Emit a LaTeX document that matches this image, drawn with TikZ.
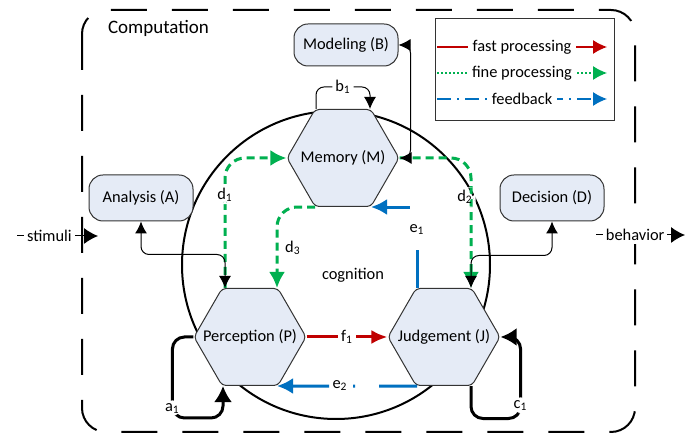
\documentclass[tikz,border=0pt]{standalone}
\usepackage{fontspec}
\setmainfont{Carlito}
\usetikzlibrary{shapes.geometric,arrows.meta,calc}

\definecolor{nodefill}{RGB}{229,235,246}
\definecolor{fastred}{RGB}{192,0,0}
\definecolor{finegreen}{RGB}{0,176,80}
\definecolor{backblue}{RGB}{0,112,192}

\tikzset{
  txt/.style={font=\fontsize{8.2}{10}\selectfont},
  box/.style={txt, draw=black!80, fill=nodefill, rounded corners=7pt, line width=0.5pt,
    minimum width=52pt, minimum height=23pt},
  hexa/.style={txt, draw=black!80, fill=nodefill, regular polygon, regular polygon sides=6,
    minimum size=56pt, inner sep=0pt, rounded corners=2pt, line width=0.5pt,
    execute at begin node={\hbox to 0pt\bgroup\hss}, execute at end node={\hss\egroup}},
  lbl/.style={txt, fill=white, inner sep=1.5pt},
  link/.style={line width=0.5pt, rounded corners=4pt, >={Latex[length=6pt,width=6pt]}},
  io/.style={line width=0.5pt, >={Latex[length=7pt,width=8pt]}},
  selfloop/.style={line width=1.5pt, rounded corners=6pt, >={Latex[length=8pt,width=9pt]}},
  fast/.style={draw=fastred, line width=1.5pt, >={Latex[length=8pt,width=7pt]}},
  fine/.style={draw=finegreen, line width=1.5pt, dash pattern=on 4pt off 2.5pt,
    rounded corners=10pt, >={Latex[length=8pt,width=8pt]}},
  feedback/.style={draw=backblue, line width=1.5pt, dash pattern=on 19pt off 12pt on 1pt off 12pt,
    >={Latex[length=8pt,width=8pt]}},
  fastkey/.style={draw=fastred, line width=0.6pt, >={Latex[length=7pt,width=7pt]}},
  finekey/.style={draw=finegreen, line width=0.6pt, dash pattern=on 1pt off 1pt, >={Latex[length=7pt,width=7pt]}},
  backkey/.style={draw=backblue, line width=0.6pt, dash pattern=on 7pt off 3pt on 1pt off 3pt, >={Latex[length=7pt,width=7pt]}}
}

\begin{document}
\begin{tikzpicture}[x=0.5pt,y=-0.5pt]
\useasboundingbox[fill=white] (0,0) rectangle (698,437);

\draw[line width=1pt, rounded corners=12pt, dash pattern=on 18pt off 12.5pt] (82,10) rectangle (635,432);
\node[anchor=west, font=\fontsize{9.5}{11}\selectfont] (comp) at (101,28) {Computation};

\node[draw, circle, line width=1pt, minimum size=154pt] (cog) at (336,265) {};
\node[txt] (coglabel) at (353,275) {cognition};

\node[box] (A) at (141,198) {Analysis (A)};
\node[box, minimum height=21pt] (B) at (346,45) {Modeling (B)};
\node[box] (D) at (552,198) {Decision (D)};
\node[hexa] (M) at (343,158) {Memory (M)};
\node[hexa] (P) at (250,337) {Perception (P)};
\node[hexa] (J) at (444,337) {Judgement (J)};

% legend
\node[draw=black!80, line width=0.5pt, minimum width=89.5pt, minimum height=51pt] (legend) at (524.5,70) {};
\foreach \sty/\txt/\y [count=\k] in {fastkey/fast processing/47, finekey/fine processing/73, backkey/feedback/99}
  \draw[\sty,->] (437,\y) -- node[lbl, inner sep=2.5pt] (key\k) {\txt} (607,\y);

% in and out
\coordinate (in) at (17,236);
\coordinate (inend) at (98,236);
\coordinate (out) at (596,235);
\coordinate (outend) at (685,235);
\draw[io,->] (in) -- node[lbl, pos=.4] (stim) {stimuli} (inend);
\draw[io,->] (out) -- node[lbl, pos=.44] (beh) {behavior} (outend);

% processing
\draw[fine,->] ($(P.north)+(-25,0)$) |- node[lbl, pos=.36] (d1) {d\textsubscript{1}} (M.west);
\draw[fine,->] (M.east) -| node[lbl, pos=.65, xshift=-3pt] (d2) {d\textsubscript{2}} ($(J.north)+(27,0)$);
\draw[fine,->] ($(M.south)+(-28,0)$) -| node[txt, pos=.75, right] (d3) {d\textsubscript{3}} ($(P.north)+(27,0)$);
\draw[fast,->] (P.east) -- node[lbl] (f1) {f\textsubscript{1}} (J.west);
\draw[feedback,->] ($(J.north)+(-27,0)$) |- node[lbl, pos=.36] (e1) {e\textsubscript{1}} ($(M.south)+(28,0)$);
\draw[feedback,->] ($(J.south)+(-27,0)$) -- node[lbl, pos=.55] (e2) {e\textsubscript{2}} ($(P.south)+(27,0)$);

% links
\draw[link,<->] (A.south) -- ++(0,33) -| ($(P.north)+(-25,0)$);
\draw[link,<->] (D.south) -- ++(0,34) -| ($(J.north)+(27,0)$);
\draw[link,<->] (B.east) -- ++(12,0) |- (M.east);
\draw[link,->] ($(M.north)+(-27,0)$) -- ++(0,-22) -| node[lbl, pos=.25] (b1) {b\textsubscript{1}} ($(M.north)+(27,0)$);

% loops
\draw[selfloop,->] (P.west) -- ++(-21,0) -- node[lbl, pos=.88] (a1) {a\textsubscript{1}} ++(0,81) -| ($(P.south)+(-27,0)$);
\draw[selfloop,->] ($(J.south)+(27,0)$) -- ++(0,32.5) -| node[lbl, pos=.58] (c1) {c\textsubscript{1}} ($(J.east)+(20,0)$) -- (J.east);

\end{tikzpicture}
\end{document}
